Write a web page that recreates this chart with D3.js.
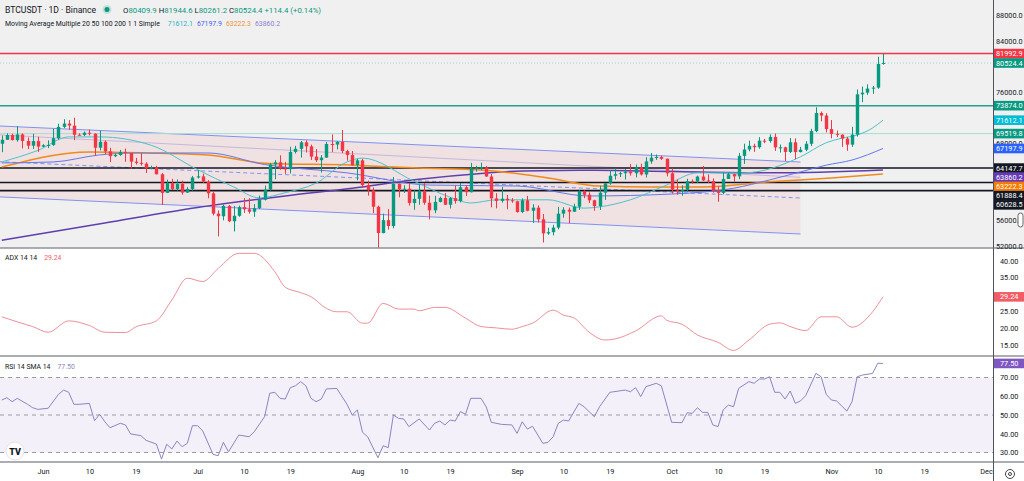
<!DOCTYPE html>
<html>
<head>
<meta charset="utf-8">
<script src="https://cdn.jsdelivr.net/npm/d3@7"></script>
<style>
html, body { margin: 0; padding: 0; background: #fff; }
svg { display: block; font-family: Roboto, "Noto Sans", sans-serif; }
</style>
</head>
<body>
<svg id="chart" width="1024" height="481"></svg>
<script>
// Daily candles, first one is 2024-05-24
var START_DATE = Date.UTC(2024, 4, 24);
var DAY = 864e5;

var OPEN = [67940,68550,69290,68510,69390,68370,67640,68350,
  67490,67710,67750,68800,70570,71080,70760,69340,69310,69650,69510,67320,68240,66750,66010,66190,66640,66490,65150,64960,64830,64100,64250,63180,60280,61800,60860,61680,60320,60890,
  62680,62850,62030,60200,57050,56640,58240,55860,56710,58050,57720,57340,57890,59200,60790,64720,65040,64090,63970,66660,67150,68160,67530,65930,65370,65780,67900,67810,68240,66800,66190,
  64620,65350,61500,60680,58120,54020,56030,55120,61680,60840,60920,58710,59350,60600,58740,57560,58870,59490,58430,59460,59010,61160,60380,64100,64180,64240,62830,59420,59030,59370,59120,
  58970,57300,59130,57490,57970,56160,53960,54160,54870,57040,57650,57340,58130,60570,60000,59130,58210,60310,61760,62950,63200,63350,63580,63340,64260,63150,65180,65770,65880,65600,
  63330,60800,60650,60750,62090,62060,62820,62220,62130,60580,60270,62450,63190,62850,66050,67040,67610,67400,68420,68360,69000,67370,67380,66660,68160,66640,67010,67930,69910,72720,72340,
  70220,69480,69350,68740,67800,69360,75640,75900,76540,76680,80409.9];
var HIGH = [69220,69560,69500,70690,69560,68910,69500,69030,
  67860,68470,70270,71060,71760,71630,71990,69560,69850,70150,69560,69990,68450,67300,66400,66980,67180,66490,65730,66480,65070,64520,64500,63370,62350,62470,62380,62200,61200,62900,
  63840,63290,62270,60500,57550,58480,58390,58240,58290,59470,59450,58530,59850,61420,64900,65390,66130,65120,67460,67600,68370,68480,67800,67100,66170,68220,69400,68320,70080,67000,66800,
  65600,65600,62200,61120,58290,57040,57740,62750,61750,61470,61860,60680,61580,61800,59850,59820,59690,60260,59620,61400,61820,61400,64950,64500,65000,64480,63210,60230,61190,59950,59460,
  59050,59420,59810,58520,58330,56980,54850,55300,58100,58040,57990,58590,60670,60660,60380,59210,61380,61790,63850,64130,63560,64000,64750,64690,64820,65840,66500,66260,66080,65620,
  64130,62390,61470,62480,62370,62960,64480,63170,62520,61320,63420,63480,63270,66500,67950,68420,67940,68970,68690,69400,69520,67820,67470,68830,68770,67450,68330,70270,73620,72960,72700,
  71630,70000,69400,69000,70580,76400,76850,77200,76940,81500,81944.6];
var LOW = [66620,68540,68450,68250,67200,67110,67130,66670,
  67390,67260,67610,68560,70380,70120,68500,69210,69130,69230,66050,66900,66300,65080,65870,66060,65130,64060,64690,64530,63380,63940,63180,58400,60250,60710,60620,60000,60280,60630,
  62520,61800,59440,56770,53500,56000,55720,54260,56560,57160,57050,56560,57760,59100,60630,62410,63870,63240,63300,66420,65780,66570,65400,65100,63450,65740,66660,67060,66470,65300,64530,
  62250,61120,59850,57120,49000,53970,54550,54750,59590,60280,58290,57650,58420,58430,56140,57100,58790,58410,57850,58590,58790,59800,60350,63600,63800,62800,58030,57860,58760,57720,58740,
  57200,57130,57410,55610,55670,52550,53740,53650,54590,56410,55550,57320,57630,59450,58700,57490,57610,59170,61550,62350,62750,62360,62950,62700,62980,62670,64820,65420,65420,62860,
  60160,59990,59830,60460,61690,61800,62130,61820,60300,58900,60080,62440,62030,62420,64800,66750,66670,67150,68030,68100,66820,66570,65260,66480,65520,66590,66780,67570,69730,71440,69690,
  68780,68980,67460,66840,67460,69060,74420,75560,75720,76490,80261.2];
var CLOSE = [68550,69290,68510,69390,68370,67640,68350,67490,
  67710,67750,68800,70570,71080,70760,69340,69310,69650,69510,67320,68240,66750,66010,66190,66640,66490,65150,64960,64830,64100,64250,63180,60280,61800,60860,61680,60320,60890,62680,
  62850,62030,60200,57050,56640,58240,55860,56710,58050,57720,57340,57890,59200,60790,64720,65040,64090,63970,66660,67150,68160,67530,65930,65370,65780,67900,67810,68240,66800,66190,64620,
  65350,61500,60680,58120,54020,56030,55120,61680,60840,60920,58710,59350,60600,58740,57560,58870,59490,58430,59460,59010,61160,60380,64100,64180,64240,62830,59420,59030,59370,59120,58970,
  57300,59130,57490,57970,56160,53960,54160,54870,57040,57650,57340,58130,60570,60000,59130,58210,60310,61760,62950,63200,63350,63580,63340,64260,63150,65180,65770,65880,65600,63330,
  60800,60650,60750,62090,62060,62820,62220,62130,60580,60270,62450,63190,62850,66050,67040,67610,67400,68420,68360,69000,67370,67380,66660,68160,66640,67010,67930,69910,72720,72340,70220,
  69480,69350,68740,67800,69360,75640,75900,76540,76680,80370,80524.4];

// Moving averages (day index from the first candle)
var MA20_DAYS = [0,7,13,19,29,38,45,50,55,61,67,70,80,87,91,96,106,113,116,122,129,135,144,155,160,163,166,169,171];
var MA20_VALUES = [65100,66900,69000,69000,67700,63900,61200,59500,60300,61800,65100,65700,62100,59600,58700,59200,59200,57900,58100,59200,61500,63400,63400,65900,68100,68800,69300,70400,71612.1];
var MA50_DAYS = [0,10,19,26,40,51,67,83,100,114,130,142,149,155,160,165,171];
var MA50_VALUES = [64950,65100,66200,66500,66500,64700,63400,61500,61350,59800,60100,61000,62300,63550,64600,65400,67197.9];
var MA100_DAYS = [0,17,28,40,51,68,81,93,106,116,126,136,149,161,171];
var MA100_VALUES = [64300,66650,66500,66200,64900,64600,64150,63850,62600,61350,61200,61200,62000,62600,63222.3];
var MA200_DAYS = [0,20,38,55,68,81,93,101,115,130,150,171];
var MA200_VALUES = [52900,55600,58000,59800,61000,62400,63300,63700,63800,63600,63400,63860.2];

// ADX 14 14
var ADX_DAYS = [0,3,6,9,13,17,20,24,26,30,33,36,39,42,46,49,53,55,58,60,63,65,67,70,71,74,77,80,81,84,86,90,93,96,99,101,103,107,109,111,114,117,119,123,128,129,132,135,139,142,145,149,151,153,156,159,162,165,169,171];
var ADX_VALUES = [23.3,21.8,20.4,18.7,22.1,20.7,18.7,18.6,20.3,22.1,28.3,34.8,33.8,37.7,42.2,42.2,36.7,32.1,30.5,29.3,25.8,24.8,24.8,21.4,21.4,27.3,25.6,25.6,25.1,26.1,26.1,22.9,20.4,20.0,19.6,20.4,21.4,25.3,23.8,23.0,18.7,16.4,16.7,19.1,23.6,22.3,21.1,17.9,15.7,13.3,16.4,21.1,21.5,20.4,19.2,23.3,23.3,20.2,24.8,29.24];

// RSI 14
var RSI_DAYS = [0,1,2,3,5,6,7,9,11,12,13,14,15,17,18,19,20,21,23,24,25,27,28,30,31,32,33,34,35,36,37,38,39,41,42,43,44,46,48,49,51,52,53,54,55,56,57,58,59,60,61,62,63,65,67,68,69,70,71,73,74,75,76,77,78,79,81,83,84,85,86,87,88,89,90,91,93,94,95,97,99,100,101,102,103,105,106,107,108,109,110,112,113,115,116,118,121,122,123,124,125,127,128,130,132,133,134,135,136,137,138,139,140,141,142,143,145,146,147,148,149,150,151,152,153,154,155,156,158,159,160,161,162,164,165,166,167,169,170,171];
var RSI_VALUES = [58.0,59.2,57.1,58.9,55.7,53.9,53.0,53.6,61.0,63.3,62.1,55.7,55.7,56.2,47.0,50.4,46.4,43.2,45.6,44.7,39.9,39.0,36.5,34.5,26.5,34.4,31.9,36.1,33.1,34.9,44.3,44.3,41.5,29.0,28.3,35.4,30.4,39.3,38.4,41.1,49.1,61.6,62.1,58.9,58.5,64.6,65.6,67.8,65.6,58.9,57.1,58.5,63.9,64.2,55.7,50.0,52.7,40.8,38.4,27.2,33.6,32.6,50.0,48.2,47.9,43.8,47.9,42.0,45.6,46.8,44.7,47.3,46.8,51.8,50.4,58.9,58.9,54.4,46.1,45.0,44.7,40.2,46.4,42.5,44.0,34.9,35.4,38.4,45.6,47.3,46.8,56.2,54.4,49.1,54.4,62.1,63.3,62.4,64.6,59.8,65.1,66.9,65.6,46.1,45.9,51.2,50.9,53.9,51.4,51.4,44.7,43.8,52.7,55.3,54.4,64.2,67.8,66.9,69.2,69.2,70.4,62.1,62.1,58.5,62.8,56.2,57.5,60.3,72.2,70.4,61.0,58.0,57.5,52.1,57.1,70.4,71.3,72.2,77.6,77.5];

// Horizontal levels and price scale labels
var LEVEL_PRICES = [81992.9, 80524.4, 73874.0, 69519.8, 64147.7, 61888.4, 60628.5];
var LEVEL_COLORS = ['#f23645', '#9fd6cc', '#22a08e', '#a8dcd2', '#131722', '#131722', '#131722'];
var LABEL_PRICES = [81992.9, 80524.4, 73874.0, 71612.1, 69519.8, 67197.9, 64147.7, 63860.2, 63222.3, 61888.4, 60628.5];
var LABEL_COLORS = ['#f23645', '#089981', '#089981', '#00bcd4', '#089981', '#2962ff', '#131722', '#673ab7', '#f57c00', '#131722', '#131722'];
var PRICE_TICKS = [52000, 56000, 60000, 64000, 68000, 72000, 76000, 80000, 84000, 88000];
var ADX_TICKS = [15, 20, 25, 30, 35, 40];
var RSI_TICKS = [30, 40, 50, 60, 70, 80];
var TIME_TICKS = ['2024-06-01','2024-06-10','2024-06-19','2024-07-01','2024-07-10','2024-07-19','2024-08-01','2024-08-10','2024-08-19',
  '2024-09-01','2024-09-10','2024-09-19','2024-10-01','2024-10-10','2024-10-19','2024-11-01','2024-11-10','2024-11-19','2024-12-01'];

// Parallel channel drawing: [day, price] anchors
var CHANNEL_TOP = [[0, 70690], [155, 65090]];
var CHANNEL_MID = [[0, 65120], [155, 59480]];
var CHANNEL_BOTTOM = [[0, 59640], [155, 53870]];
var CHANNEL_INNER = [[0, 69300], [155, 62700]];

var GREEN = '#089981';
var RED = '#f23645';
var PLOT_RIGHT = 993;
var MAIN_BOTTOM = 248;
var ADX_BOTTOM = 356;
var RSI_BOTTOM = 462;
var AXIS_FONT = 7.3;

function dayDate(i) {
  return new Date(START_DATE + i * DAY);
}

var svg = d3.select('#chart');

var x = d3.scaleUtc()
  .domain([new Date(Date.UTC(2024, 5, 1)), new Date(Date.UTC(2024, 11, 1))])
  .range([43, 986]);
var y = d3.scaleLinear().domain([52000, 84000]).range([246, 40.7]);
var yAdx = d3.scaleLinear().domain([15, 40]).range([344.7, 260.7]);
var yRsi = d3.scaleLinear().domain([30, 70]).range([452.5, 377.5]);

// backgrounds
svg.append('rect').attr('x', 0).attr('y', 0).attr('width', 1024).attr('height', 481).attr('fill', '#ffffff');
svg.append('rect').attr('x', 0).attr('y', 0).attr('width', 1024).attr('height', MAIN_BOTTOM).attr('fill', '#f0f0f0');

var defs = svg.append('defs');
function clip(id, top, bottom) {
  defs.append('clipPath').attr('id', id)
    .append('rect').attr('x', 0).attr('y', top).attr('width', PLOT_RIGHT).attr('height', bottom - top);
}
clip('clip-main', 0, MAIN_BOTTOM);
clip('clip-adx', MAIN_BOTTOM, ADX_BOTTOM);
clip('clip-rsi', ADX_BOTTOM, RSI_BOTTOM);

var main = svg.append('g').attr('clip-path', 'url(#clip-main)');

// channel, extended a little past the left edge
var leftDay = -2;
function chanPt(p) { return [x(dayDate(p[0])), y(p[1])]; }
function chanAt(line, d) {
  var t = (d - line[0][0]) / (line[1][0] - line[0][0]);
  return [x(dayDate(d)), y(line[0][1] + t * (line[1][1] - line[0][1]))];
}
var chanPoly = [chanAt(CHANNEL_TOP, leftDay), chanPt(CHANNEL_TOP[1]), chanPt(CHANNEL_BOTTOM[1]), chanAt(CHANNEL_BOTTOM, leftDay)];
main.append('polygon')
  .attr('points', chanPoly.map(function(p) { return p.join(','); }).join(' '))
  .attr('fill', 'rgba(242,54,69,0.08)');

function chanLine(line, color, dash, width) {
  var a = chanAt(line, leftDay), b = chanPt(line[1]);
  main.append('line')
    .attr('x1', a[0]).attr('y1', a[1]).attr('x2', b[0]).attr('y2', b[1])
    .attr('stroke', color).attr('stroke-width', width)
    .attr('stroke-dasharray', dash);
}
chanLine(CHANNEL_INNER, 'rgba(120,110,200,0.35)', null, 1);
chanLine(CHANNEL_TOP, '#8092f2', null, 1);
chanLine(CHANNEL_MID, '#8092f2', '4,3', 1);
chanLine(CHANNEL_BOTTOM, '#8092f2', null, 1);

// horizontal levels
LEVEL_PRICES.forEach(function(p, i) {
  var w = 1.5;
  if (i === 1 || i === 3) w = 1;
  if (i >= 4) w = 1.6;
  main.append('line')
    .attr('x1', 0).attr('x2', PLOT_RIGHT)
    .attr('y1', y(p)).attr('y2', y(p))
    .attr('stroke', LEVEL_COLORS[i])
    .attr('stroke-width', w)
    .attr('stroke-dasharray', i === 1 ? '1,2' : null);
});

// moving averages
function maLine(days, values, color, width) {
  var line = d3.line()
    .x(function(d) { return x(dayDate(d[0])); })
    .y(function(d) { return y(d[1]); })
    .curve(d3.curveMonotoneX);
  main.append('path')
    .datum(d3.zip(days, values))
    .attr('d', line)
    .attr('fill', 'none')
    .attr('stroke', color)
    .attr('stroke-width', width);
}
maLine(MA200_DAYS, MA200_VALUES, '#5e3fb0', 1.5);
maLine(MA100_DAYS, MA100_VALUES, '#f08a1c', 1.5);
maLine(MA50_DAYS, MA50_VALUES, '#6178f0', 1);
maLine(MA20_DAYS, MA20_VALUES, '#4cc3cc', 1);

// candles
var candles = d3.range(CLOSE.length).map(function(i) {
  return { d: dayDate(i), o: OPEN[i], h: HIGH[i], l: LOW[i], c: CLOSE[i] };
});
var cg = main.append('g').selectAll('g').data(candles).enter().append('g');
cg.append('line')
  .attr('x1', function(d) { return Math.round(x(d.d)) + 0.5; })
  .attr('x2', function(d) { return Math.round(x(d.d)) + 0.5; })
  .attr('y1', function(d) { return y(d.h); })
  .attr('y2', function(d) { return y(d.l); })
  .attr('stroke', function(d) { return d.c >= d.o ? GREEN : RED; })
  .attr('stroke-width', 1);
cg.append('rect')
  .attr('x', function(d) { return Math.round(x(d.d)) + 0.5 - 1.7; })
  .attr('width', 3.4)
  .attr('y', function(d) { return y(Math.max(d.o, d.c)); })
  .attr('height', function(d) { return Math.max(1, Math.abs(y(d.o) - y(d.c))); })
  .attr('fill', function(d) { return d.c >= d.o ? GREEN : RED; });

// ADX panel
var adxG = svg.append('g').attr('clip-path', 'url(#clip-adx)');
adxG.append('path')
  .datum(d3.zip(ADX_DAYS, ADX_VALUES))
  .attr('d', d3.line()
    .x(function(d) { return x(dayDate(d[0])); })
    .y(function(d) { return yAdx(d[1]); })
    .curve(d3.curveMonotoneX))
  .attr('fill', 'none')
  .attr('stroke', '#ee8f97')
  .attr('stroke-width', 1);

// RSI panel
var rsiG = svg.append('g').attr('clip-path', 'url(#clip-rsi)');
rsiG.append('rect')
  .attr('x', 0).attr('width', PLOT_RIGHT)
  .attr('y', yRsi(70)).attr('height', yRsi(30) - yRsi(70))
  .attr('fill', 'rgba(126,87,194,0.09)');
[70, 50, 30].forEach(function(v) {
  rsiG.append('line')
    .attr('x1', 0).attr('x2', PLOT_RIGHT)
    .attr('y1', yRsi(v)).attr('y2', yRsi(v))
    .attr('stroke', '#9a9ba3').attr('stroke-width', 1)
    .attr('stroke-dasharray', '4,4');
});
rsiG.append('path')
  .datum(d3.zip(RSI_DAYS, RSI_VALUES))
  .attr('d', d3.line()
    .x(function(d) { return x(dayDate(d[0])); })
    .y(function(d) { return yRsi(d[1]); }))
  .attr('fill', 'none')
  .attr('stroke', '#8a86c4')
  .attr('stroke-width', 1);

// TradingView logo
svg.append('circle').attr('cx', 15).attr('cy', 451).attr('r', 9)
  .attr('fill', '#ffffff').attr('stroke', '#e4e4e4');
svg.append('text').attr('x', 15).attr('y', 454.5).attr('text-anchor', 'middle')
  .attr('font-size', 9).attr('font-weight', 900).attr('fill', '#131722').text('TV');

// panel separators
[MAIN_BOTTOM, ADX_BOTTOM, RSI_BOTTOM].forEach(function(py) {
  svg.append('line').attr('x1', 0).attr('x2', 1024).attr('y1', py).attr('y2', py)
    .attr('stroke', '#8f9299').attr('stroke-width', 1.5);
});
svg.append('line').attr('x1', PLOT_RIGHT + 0.5).attr('x2', PLOT_RIGHT + 0.5).attr('y1', 0).attr('y2', 481)
  .attr('stroke', '#50535e').attr('stroke-width', 1);

// price scale labels, stacked so they do not overlap
var labels = LABEL_PRICES.map(function(p, i) { return { p: p, color: LABEL_COLORS[i], y: y(p) }; });
labels.sort(function(a, b) { return a.y - b.y; });
for (var k = 1; k < labels.length; k++) {
  if (labels[k].y < labels[k - 1].y + 9.2) labels[k].y = labels[k - 1].y + 9.2;
}
var adxLast = ADX_VALUES[ADX_VALUES.length - 1];
var rsiLast = RSI_VALUES[RSI_VALUES.length - 1];
var sideLabels = [
  { text: d3.format('.2f')(adxLast), y: yAdx(adxLast), color: '#f25c66' },
  { text: d3.format('.2f')(rsiLast), y: yRsi(rsiLast), color: '#7e57c2' }
];
var labelYs = labels.map(function(d) { return d.y; }).concat(sideLabels.map(function(d) { return d.y; }));

// axes; tick texts that sit under a coloured label are hidden, as on the scale
function styleAxis(g) {
  g.select('.domain').remove();
  g.selectAll('text').attr('font-size', AXIS_FONT).attr('fill', '#131722')
    .attr('font-family', 'Roboto, "Noto Sans", sans-serif');
}
function hideCovered(scale) {
  return function(g) {
    g.selectAll('.tick').filter(function(d) {
      var ty = scale(d);
      return labelYs.some(function(ly) { return Math.abs(ly - ty) < 4.8; });
    }).remove();
  };
}
svg.append('g').attr('transform', 'translate(' + PLOT_RIGHT + ',0)')
  .call(d3.axisRight(y).tickValues(PRICE_TICKS).tickFormat(d3.format('.1f')).tickSize(0).tickPadding(3))
  .call(styleAxis).call(hideCovered(y));
svg.append('g').attr('transform', 'translate(' + PLOT_RIGHT + ',0)')
  .call(d3.axisRight(yAdx).tickValues(ADX_TICKS).tickFormat(d3.format('.2f')).tickSize(0).tickPadding(7))
  .call(styleAxis).call(hideCovered(yAdx));
svg.append('g').attr('transform', 'translate(' + PLOT_RIGHT + ',0)')
  .call(d3.axisRight(yRsi).tickValues(RSI_TICKS).tickFormat(d3.format('.2f')).tickSize(0).tickPadding(7))
  .call(styleAxis).call(hideCovered(yRsi));

var monthFmt = d3.utcFormat('%b');
svg.append('g').attr('transform', 'translate(0,' + (RSI_BOTTOM + 4) + ')')
  .call(d3.axisBottom(x)
    .tickValues(TIME_TICKS.map(function(s) { return new Date(s + 'T00:00:00Z'); }))
    .tickFormat(function(d) { return d.getUTCDate() === 1 ? monthFmt(d) : d.getUTCDate(); })
    .tickSize(0).tickPadding(3))
  .call(styleAxis);

var lg = svg.append('g').selectAll('g').data(labels).enter().append('g');
lg.append('rect')
  .attr('x', PLOT_RIGHT + 1).attr('width', 30)
  .attr('y', function(d) { return d.y - 4.8; }).attr('height', 9.6)
  .attr('fill', function(d) { return d.color; });
lg.append('text')
  .attr('x', PLOT_RIGHT + 3).attr('y', function(d) { return d.y; }).attr('dy', '0.35em')
  .attr('font-size', AXIS_FONT).attr('fill', '#ffffff')
  .text(function(d) { return d3.format('.1f')(d.p); });

sideLabels.forEach(function(s) {
  svg.append('rect').attr('x', PLOT_RIGHT + 1).attr('width', 30)
    .attr('y', s.y - 4.8).attr('height', 9.6).attr('fill', s.color);
  svg.append('text').attr('x', PLOT_RIGHT + 7).attr('y', s.y).attr('dy', '0.35em')
    .attr('font-size', AXIS_FONT).attr('fill', '#ffffff').text(s.text);
});

// scale handle and settings icon
svg.append('rect').attr('x', 1018).attr('y', 213).attr('width', 5).attr('height', 14).attr('rx', 2.5)
  .attr('fill', '#ffffff').attr('stroke', '#666');
svg.append('circle').attr('cx', 1010).attr('cy', 474).attr('r', 4.5).attr('fill', 'none').attr('stroke', '#444');
svg.append('circle').attr('cx', 1010).attr('cy', 474).attr('r', 1.5).attr('fill', 'none').attr('stroke', '#444');

// legends
var head = svg.append('g').attr('font-family', 'Roboto, "Noto Sans", sans-serif');
head.append('text').attr('x', 5).attr('y', 12.5).attr('font-size', 8.6).attr('fill', '#131722')
  .text('BTCUSDT \u00b7 1D \u00b7 Binance');
head.append('circle').attr('cx', 107).attr('cy', 9.5).attr('r', 4.5).attr('fill', 'rgba(8,153,129,0.18)');
head.append('circle').attr('cx', 107).attr('cy', 9.5).attr('r', 2.5).attr('fill', GREEN);

var last = CLOSE.length - 1;
var ohlc = head.append('text').attr('x', 123).attr('y', 12.5).attr('font-size', 7.8);
[['O', OPEN[last]], [' H', HIGH[last]], [' L', LOW[last]], [' C', CLOSE[last]]].forEach(function(p) {
  ohlc.append('tspan').attr('fill', '#131722').text(p[0]);
  ohlc.append('tspan').attr('fill', GREEN).text(d3.format('.1f')(p[1]));
});
ohlc.append('tspan').attr('fill', GREEN).text(' +114.4 (+0.14%)');

var maText = head.append('text').attr('x', 5).attr('y', 25.5).attr('font-size', 6.9).attr('fill', '#131722');
maText.append('tspan').text('Moving Average Multiple 20 50 100 200 1 1 Simple');
[[MA20_VALUES, '#26b8c8'], [MA50_VALUES, '#4a63f0'], [MA100_VALUES, '#f29530'], [MA200_VALUES, '#8f7fd6']].forEach(function(m, i) {
  maText.append('tspan').attr('fill', m[1]).attr('dx', i === 0 ? 8 : 4).text(d3.format('.1f')(m[0][m[0].length - 1]));
});

var adxText = head.append('text').attr('x', 5).attr('y', 260).attr('font-size', 6.9).attr('fill', '#131722');
adxText.append('tspan').text('ADX 14 14');
adxText.append('tspan').attr('dx', 7).attr('fill', '#f25c66').text(d3.format('.2f')(adxLast));

var rsiText = head.append('text').attr('x', 5).attr('y', 369).attr('font-size', 6.9).attr('fill', '#131722');
rsiText.append('tspan').text('RSI 14 SMA 14');
rsiText.append('tspan').attr('dx', 7).attr('fill', '#8a86c4').text(d3.format('.2f')(rsiLast));
</script>
</body>
</html>
